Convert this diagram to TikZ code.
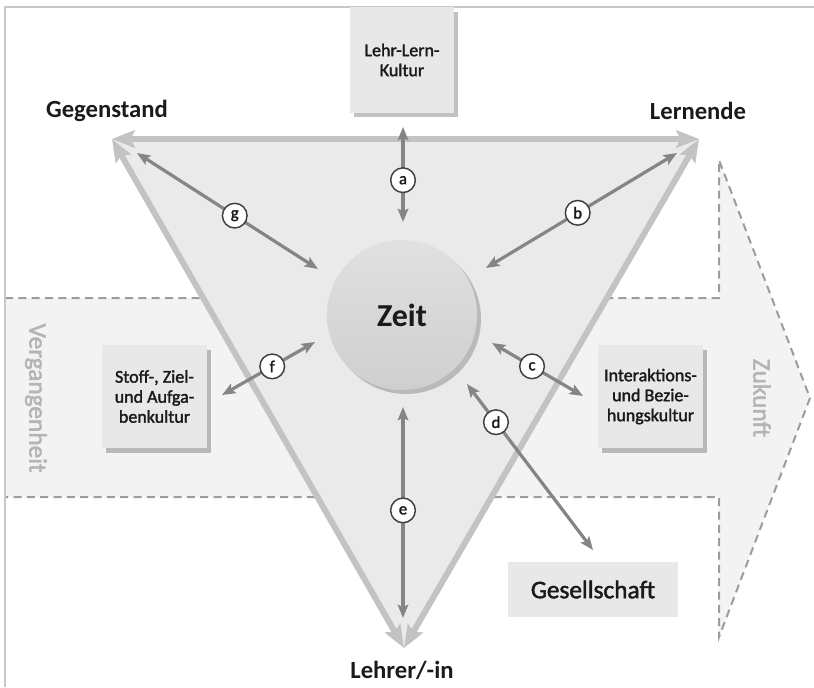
\documentclass[tikz,border=0pt]{standalone}
\usepackage{fontspec}
\setmainfont{Carlito}
\newfontfamily\medfont{Carlito}[FakeBold=1.8]
\usepackage{tikz}
\usetikzlibrary{arrows.meta}
\usetikzlibrary{shadows}

\definecolor{bandfill}{HTML}{F3F3F3}
\definecolor{trifill}{HTML}{EAEAEA}
\definecolor{triedge}{HTML}{C3C3C3}
\definecolor{relgray}{HTML}{858585}
\definecolor{dashgray}{HTML}{9C9C9C}
\definecolor{boxfill}{HTML}{E8E8E8}
\definecolor{timegray}{HTML}{B4B4B4}
\definecolor{framegray}{HTML}{C8C8C8}
\definecolor{ink}{HTML}{1A1A1A}

\tikzset{
        bigtip/.tip={Stealth[length=17pt,width=13pt,inset=3pt]},
        smalltip/.tip={Stealth[length=10pt,width=8pt,inset=2pt]},
        edgearrow/.style={draw=triedge, line width=4.5pt, bigtip-bigtip},
        relarrow/.style={draw=relgray, line width=2.4pt, smalltip-smalltip},
        letter/.style={circle, draw=black!75, fill=white, line width=1.1pt, inner sep=0pt,
                minimum size=18.5pt, text=ink, font=\medfont\fontsize{12.5}{12.5}\selectfont},
        cornerlabel/.style={text=ink, font=\fontsize{18.5}{20}\selectfont\bfseries},
        culturebox/.style={fill=boxfill, inner sep=0pt, align=center, text=ink,
                font=\medfont\fontsize{13.5}{15}\selectfont,
                drop shadow={shadow xshift=3pt, shadow yshift=-3.5pt, opacity=.35, fill=black!70}},
        timelabel/.style={text=timegray, rotate=-90, font=\medfont\fontsize{19}{19}\selectfont}
}

\begin{document}
\begin{tikzpicture}[x=0.75pt, y=-0.75pt]
        \useasboundingbox (0,0) rectangle (814,687);

        \fill[bandfill] (5,298) -- (719,298) -- (719,160) -- (810,398) -- (719,637) -- (719,497) -- (5,497) -- cycle;
        \draw[dashgray, line width=1.5pt, dash pattern=on 6pt off 4pt]
                (5,298) -- (719,298) -- (719,160) -- (810,398) -- (719,637) -- (719,497) -- (5,497);
        \draw[framegray, line width=1.5pt] (814,7) -- (5,7) -- (5,687);

        \node[timelabel] (past) at (36,398) {Vergangenheit};
        \node[timelabel] (future) at (762,398) {Zukunft};

        \coordinate (vg) at (112,139);
        \coordinate (vl) at (699,139);
        \coordinate (vb) at (404,648);
        \fill[trifill] (vg) -- (vl) -- (vb) -- cycle;
        \draw[edgearrow] (vg) -- (vl);
        \draw[edgearrow] (vb) -- (vg);
        \draw[edgearrow] (vb) -- (vl);

        \node[cornerlabel] (gegenstand) at (107,111) {Gegenstand};
        \node[cornerlabel] (lernende) at (698,111) {Lernende};
        \node[cornerlabel] (lehrer) at (402,670) {Lehrer/-in};

        \node[culturebox, minimum width=78pt, minimum height=79pt] (lehrlern) at (402,60) {Lehr-Lern-\\Kultur};
        \node[culturebox, minimum width=79pt, minimum height=77pt] (stoff) at (154.5,396.5) {Stoff-, Ziel-\\und Aufga-\\benkultur};
        \node[culturebox, minimum width=79pt, minimum height=77pt] (interaktion) at (650.5,396.5) {Interaktions-\\und Bezie-\\hungskultur};
        \node[fill=boxfill, inner sep=0pt, minimum width=127.5pt, minimum height=41pt, text=ink,
                font=\medfont\fontsize{19}{19}\selectfont] (gesellschaft) at (593,589.5) {Gesellschaft};

        \node[circle, minimum size=112.5pt, inner sep=0pt, top color=black!12, bottom color=black!19,
                text=ink, font=\fontsize{24}{24}\selectfont\bfseries,
                drop shadow={shadow xshift=3pt, shadow yshift=-3pt, opacity=.3, fill=black!70}] (zeit) at (402,315) {Zeit};

        \coordinate (a1) at (403,127);
        \coordinate (a2) at (403,222);
        \coordinate (b1) at (677,153);
        \coordinate (b2) at (486,268);
        \coordinate (c1) at (492,343);
        \coordinate (c2) at (583,396);
        \coordinate (d1) at (467,384);
        \coordinate (d2) at (593,550);
        \coordinate (e1) at (403,407);
        \coordinate (e2) at (403,618);
        \coordinate (f1) at (222,395);
        \coordinate (f2) at (315,342);
        \coordinate (g1) at (137,153);
        \coordinate (g2) at (318,269);

        \draw[relarrow] (a1) -- (a2) node[letter, pos=.56] (la) {a};
        \draw[relarrow] (b1) -- (b2) node[letter, pos=.52] (lb) {b};
        \draw[relarrow] (c1) -- (c2) node[letter, pos=.44] (lc) {c};
        \draw[relarrow] (d1) -- (d2) node[letter, pos=.23] (ld) {d};
        \draw[relarrow] (e1) -- (e2) node[letter, pos=.49] (le) {e};
        \draw[relarrow] (f1) -- (f2) node[letter, pos=.54] (lf) {f};
        \draw[relarrow] (g1) -- (g2) node[letter, pos=.54] (lg) {g};
\end{tikzpicture}
\end{document}
